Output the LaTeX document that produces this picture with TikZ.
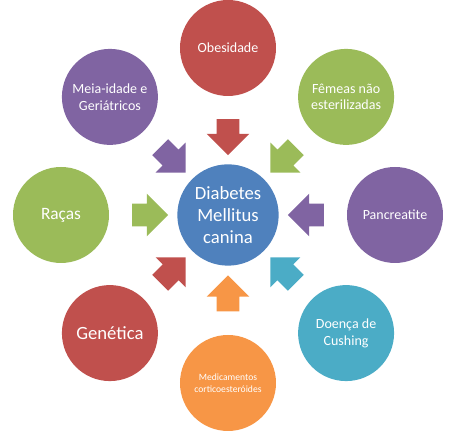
\documentclass[tikz,border=0pt]{standalone}
\usepackage{fontspec}
\setmainfont{Carlito}
\usetikzlibrary{positioning,calc,shapes.arrows}
\definecolor{offBlue}{RGB}{79,129,189}
\definecolor{offRed}{RGB}{192,80,77}
\definecolor{offGreen}{RGB}{155,187,89}
\definecolor{offPurple}{RGB}{128,100,162}
\definecolor{offAqua}{RGB}{75,172,198}
\definecolor{offOrange}{RGB}{247,150,70}
\tikzset{
	hub/.style={
		circle,
		fill=offBlue,
		minimum size=76pt,
		inner sep=0pt,
		align=center,
		text=white,
		font=\fontsize{14}{16.5}\selectfont
	},
	cause/.style={
		circle,
		minimum size=72pt,
		inner sep=0pt,
		align=center,
		text=white,
		font=\fontsize{10.5}{12.5}\selectfont
	},
	barr/.style={single arrow, single arrow head extend=7.5pt, minimum width=31.5pt,
		minimum height=27pt, inner xsep=0pt, inner ysep=8.25pt}
}

\begin{document}
\begin{tikzpicture}[x=0.75pt, y=0.75pt]
		\useasboundingbox (0,0) rectangle (455,434);
		\node[hub] (dm) at (228,219) {Diabetes\\Mellitus\\canina};
		% causes, clockwise from the top
		\node[cause, fill=offRed] (ob) at ($(dm)+(90:167)$) {Obesidade};
		\node[cause, fill=offGreen] (fe) at ($(dm)+(45:167)$) {Fêmeas não\\esterilizadas};
		\node[cause, fill=offPurple] (pa) at ($(dm)+(0:167)$) {Pancreatite};
		\node[cause, fill=offAqua] (cu) at ($(dm)+(-45:167)$) {Doença de\\Cushing};
		\node[cause, fill=offOrange, font=\fontsize{7.2}{9}\selectfont] (me) at ($(dm)+(-90:168)$)
			{Medicamentos\\corticoesteróides};
		\node[cause, fill=offRed, font=\fontsize{14}{17}\selectfont] (ge) at ($(dm)+(-135:167)$) {Genética};
		\node[cause, fill=offGreen, font=\fontsize{13}{16}\selectfont] (ra) at ($(dm)+(180:167)$) {Raças};
		\node[cause, fill=offPurple] (mi) at ($(dm)+(135:167)$) {Meia-idade e\\Geriátricos};
		% arrows into the hub
		\node[barr, fill=offRed, rotate=270] (aob) at ($(dm)!0.5!(ob)$) {};
		\node[barr, fill=offGreen, rotate=225] (afe) at ($(dm)!0.5!(fe)$) {};
		\node[barr, fill=offPurple, rotate=180] (apa) at ($(dm)!0.5!(pa)$) {};
		\node[barr, fill=offAqua, rotate=135] (acu) at ($(dm)!0.5!(cu)$) {};
		\node[barr, fill=offOrange, rotate=90] (ame) at ($(dm)!0.5!(me)$) {};
		\node[barr, fill=offRed, rotate=45] (age) at ($(dm)!0.5!(ge)$) {};
		\node[barr, fill=offGreen, rotate=0] (ara) at ($(dm)!0.5!(ra)$) {};
		\node[barr, fill=offPurple, rotate=-45] (ami) at ($(dm)!0.5!(mi)$) {};
	\end{tikzpicture}
\end{document}
